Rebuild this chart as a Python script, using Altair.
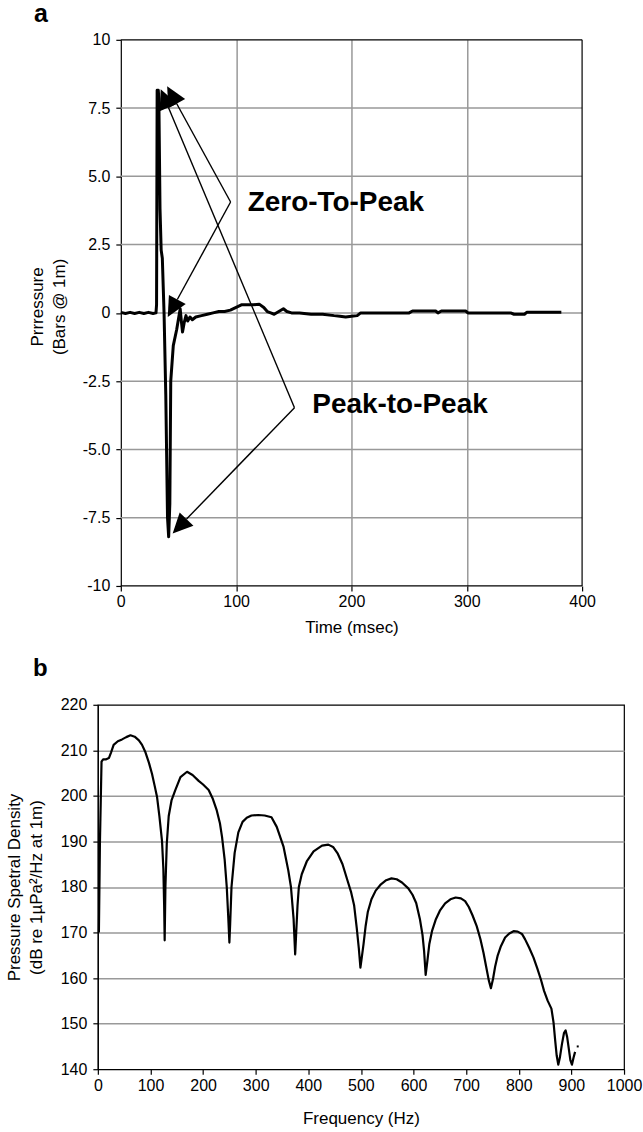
import math
import altair as alt
import pandas as pd

FONT = "Liberation Sans"

# ---------------- Panel a : pressure signature ----------------
time_ms = [0, 4, 8, 12, 16, 20, 24, 28, 30.5, 31, 31.5, 32.5, 33, 34, 35, 36, 37.5, 39,
           40.5, 41.5, 42.5, 43.3, 45.5, 48.5, 50.5, 51.5, 52.5, 53.5, 55, 56.5, 58, 60,
           62, 65, 70, 75, 80, 85, 90, 95, 100, 105, 110, 115, 120, 124, 127, 130, 133,
           137, 141, 144, 148, 155, 165, 175, 185, 190, 195, 200, 205, 208, 215, 225, 235,
           245, 250, 253, 263, 273, 275, 278, 288, 299, 301, 310, 320, 330, 338, 341, 350,
           352, 362, 372, 382]
pressure_bar = [0.02, -0.02, 0.02, -0.02, 0.02, -0.02, 0.02, -0.02, 0.0, 0.3, 8.15, 8.15,
                7.8, 3.8, 2.3, 2.0, 0.0, -3.0, -7.5, -8.2, -7.0, -2.5, -1.2, -0.6, -0.1,
                0.15, -0.3, -0.7, -0.35, -0.1, -0.3, -0.15, -0.25, -0.15, -0.1, -0.05, 0.0,
                0.05, 0.05, 0.1, 0.2, 0.3, 0.3, 0.3, 0.32, 0.2, 0.05, 0.0, -0.05, 0.05, 0.15,
                0.05, 0.0, 0.0, -0.05, -0.05, -0.1, -0.12, -0.15, -0.12, -0.1, 0.0, 0.0, 0.0,
                0.0, 0.0, 0.0, 0.07, 0.07, 0.07, 0.0, 0.07, 0.07, 0.07, 0.0, 0.0, 0.0, 0.0,
                0.0, -0.05, -0.05, 0.02, 0.02, 0.02, 0.02]

# annotation arrows (data units: msec, bar)
arrow_from_t = [95.2, 95.2, 150.6, 150.6]
arrow_from_p = [4.06, 4.06, -3.47, -3.47]
arrow_to_t = [48.5, 49.0, 41.3, 57.0]
arrow_to_p = [7.66, 0.49, 7.52, -7.55]

label_text = ["Zero-To-Peak", "Peak-to-Peak"]
label_t = [110, 166]
label_p = [4.04, -3.38]

# ---------------- Panel b : spectrum ----------------
freq_hz = [2, 4, 7, 10, 15, 21, 25, 30, 38, 46,
           54, 62, 70, 78, 84, 90, 97, 103, 108, 112.6,
           117, 122, 124.5, 126, 127, 128.4, 131, 134.7, 140, 147,
           157, 169.5, 180, 191.6, 200, 210.6, 218, 226, 232, 236,
           241, 245, 248, 250, 251.5, 254, 260, 267, 275, 283,
           292, 305, 317, 330, 340, 353, 362, 367, 372, 375,
           377, 379.5, 382, 387.5, 397, 410, 426, 438, 447, 456,
           465, 474, 481, 487, 492, 496, 499, 501, 505, 509,
           513, 520, 528, 538, 548, 558, 568, 578, 590, 598,
           605, 612, 617, 620, 623, 626, 630, 635, 642, 650,
           660, 670, 680, 690, 698, 705, 712, 720, 727, 733,
           738, 743, 747, 751, 755, 760, 766, 774, 782, 790,
           798, 806, 812, 820, 828, 835, 842, 848, 855, 862,
           866, 869, 872, 875, 878, 882, 886, 889, 892, 895,
           898, 901, 904, 907]
psd_db = [170, 190, 207.5, 208, 208, 208.3, 209.5, 211.2, 212, 212.4,
          212.9, 213.3, 213, 212.2, 211.2, 209.7, 207.3, 204.8, 202.2, 199.7,
          195.5, 190, 184, 176, 168.3, 180, 189.5, 195.6, 199, 201.2,
          204.1, 205.3, 204.6, 203.3, 202.5, 201.3, 199.5, 196.8, 194, 191,
          186, 180, 173, 167.8, 172, 180, 187.5, 192, 194.3, 195.2,
          195.7, 195.8, 195.7, 195.3, 193.2, 188.8, 183.6, 180, 173, 165.2,
          170, 176, 180, 182.8, 185.6, 187.8, 189.1, 189.3, 188.8, 187.3,
          185, 181.6, 179, 176, 171, 166.5, 162.3, 164, 167.5, 171.5,
          174.5, 177.3, 179.2, 180.6, 181.5, 181.9, 181.7, 181, 179.7, 178.3,
          176.5, 173, 169.5, 166, 160.7, 163.5, 167.5, 170.3, 172.8, 174.8,
          176.4, 177.3, 177.7, 177.5, 176.9, 175.6, 173.8, 171.4, 168.6, 165.5,
          162.5, 159.5, 157.8, 159.8, 162.5, 165, 167, 168.9, 169.8, 170.3,
          170.2, 169.7, 168.5, 166.6, 164.5, 162.2, 159.7, 157.2, 155, 153.3,
          150.3, 146.5, 143, 141, 142.5, 145.5, 148, 148.5, 147, 144.5,
          142, 141, 142.5, 143.8]
stray_hz = [912]
stray_db = [145]

top_ticks_t = [0, 100, 200, 300, 400]
top_ticks_p = [10, 7.5, 5, 2.5, 0, -2.5, -5, -7.5, -10]
top_grid_p = [7.5, 5, 2.5, 0, -2.5, -5, -7.5]
bot_ticks_f = [0, 100, 200, 300, 400, 500, 600, 700, 800, 900, 1000]
bot_ticks_db = [140, 150, 160, 170, 180, 190, 200, 210, 220]

# ---------------- layout constants ----------------
TOP_INDENT = 23          # panel a's frame starts this many px right of panel b's
PX_PER_MS = 462 / 400.0
T_MIN = -TOP_INDENT / PX_PER_MS
TOP_W, TOP_H = 462 + TOP_INDENT, 547
BOT_W, BOT_H = 527, 365
GRID = "#999999"
ARROW = "M0,-1L-0.48,0L0.48,0Z"

# arrowhead orientation (screen angle of each arrow's direction)
px_p = TOP_H / 20.0
head_angle = []
for t0, p0, t1, p1 in zip(arrow_from_t, arrow_from_p, arrow_to_t, arrow_to_p):
    dx = (t1 - t0) * PX_PER_MS
    dy = -(p1 - p0) * px_p
    head_angle.append(math.degrees(math.atan2(dx, -dy)) % 360)

top_df = pd.DataFrame({"t": time_ms, "p": pressure_bar})
arrow_df = pd.DataFrame({"t": arrow_from_t, "p": arrow_from_p,
                         "t2": arrow_to_t, "p2": arrow_to_p})
head_df = pd.DataFrame({"t": arrow_to_t, "p": arrow_to_p, "ang": head_angle})
lab_df = pd.DataFrame({"t": label_t, "p": label_p, "label": label_text})
hgrid_df = pd.DataFrame({"t": [0] * len(top_grid_p), "t2": [400] * len(top_grid_p), "p": top_grid_p})
frame_h_df = pd.DataFrame({"t": [0, 0], "t2": [400, 400], "p": [10, -10]})
frame_v_df = pd.DataFrame({"t": [400], "p": [-10], "p2": [10]})

X_top = alt.X("t:Q", scale=alt.Scale(domain=[T_MIN, 400], nice=False, zero=False),
              axis=alt.Axis(values=top_ticks_t, title="Time (msec)", grid=True, domain=False,
                            gridOpacity={"condition": {"test": "datum.value == 0 || datum.value == 400", "value": 0}, "value": 1},
                            labelPadding=3, titlePadding=10, format="d",
                            titleX=TOP_INDENT + 462 / 2.0))
Y_top = alt.Y("p:Q", scale=alt.Scale(domain=[-10, 10], nice=False, zero=False),
              axis=alt.Axis(values=top_ticks_p, title=["Prrressure", "(Bars @ 1m)"], grid=False,
                            offset=-TOP_INDENT,
                            labelExpr="datum.value == 0 || abs(datum.value) == 10 ? toString(datum.value) : (datum.value < 0 ? '-' : '') + format(abs(datum.value), '.1f')",
                            labelPadding=6, titlePadding=14, titleLineHeight=22, titleY=267))

hgrid_a = alt.Chart(hgrid_df).mark_rule(color=GRID, strokeWidth=1.5).encode(x=X_top, x2="t2:Q", y=Y_top)
frame_h_a = alt.Chart(frame_h_df).mark_rule(color="black", strokeWidth=1.2).encode(x=X_top, x2="t2:Q", y=Y_top)
frame_v_a = alt.Chart(frame_v_df).mark_rule(color="black", strokeWidth=1.2).encode(x=X_top, y=Y_top, y2="p2:Q")
line_a = alt.Chart(top_df).mark_line(color="black", strokeWidth=3, strokeJoin="round").encode(x=X_top, y=Y_top)
rules_a = alt.Chart(arrow_df).mark_rule(color="black", strokeWidth=1.4).encode(
    x=X_top, y=Y_top, x2="t2:Q", y2="p2:Q")
heads_a = alt.Chart(head_df).mark_point(shape=ARROW, filled=True, size=1600, color="black",
                                        opacity=1, strokeWidth=0).encode(
    x=X_top, y=Y_top, angle=alt.Angle("ang:Q", scale=None))
text_a = alt.Chart(lab_df).mark_text(align="left", baseline="middle", fontSize=28,
                                     fontWeight="bold", font=FONT, color="black").encode(
    x=X_top, y=Y_top, text="label:N")
tag_a = alt.Chart(pd.DataFrame({"k": [0]})).mark_text(
    align="left", baseline="alphabetic", fontSize=25, fontWeight="bold", font=FONT, color="black"
).encode(x=alt.value(-64), y=alt.value(-18), text=alt.value("a"))

top = alt.layer(hgrid_a, frame_h_a, frame_v_a, line_a, rules_a, heads_a, text_a, tag_a).properties(
    width=TOP_W, height=TOP_H, view=alt.ViewBackground(stroke="transparent"))

bot_df = pd.DataFrame({"f": freq_hz, "d": psd_db})
stray_df = pd.DataFrame({"f": stray_hz, "d": stray_db})
X_bot = alt.X("f:Q", scale=alt.Scale(domain=[0, 1000], nice=False, zero=False),
              axis=alt.Axis(values=bot_ticks_f, title="Frequency (Hz)", grid=False, format="d",
                            labelPadding=3, titlePadding=17))
Y_bot = alt.Y("d:Q", scale=alt.Scale(domain=[140, 220], nice=False, zero=False),
              axis=alt.Axis(values=bot_ticks_db,
                            title=["Pressure Spetral Density", "(dB re 1\u00b5Pa\u00b2/Hz at 1m)"],
                            grid=True,
                            gridOpacity={"condition": {"test": "datum.value == 140 || datum.value == 220", "value": 0}, "value": 1},
                            labelPadding=6, titlePadding=15, titleLineHeight=22))

line_b = alt.Chart(bot_df).mark_line(color="black", strokeWidth=2.2, strokeJoin="round").encode(x=X_bot, y=Y_bot)
dot_b = alt.Chart(stray_df).mark_point(shape="square", filled=True, size=4, color="black", opacity=1).encode(x=X_bot, y=Y_bot)
anchor_b = alt.Chart(pd.DataFrame({"k": [0]})).mark_rule(opacity=0).encode(
    x=alt.value(-95), y=alt.value(0), y2=alt.value(4))
tag_b = alt.Chart(pd.DataFrame({"k": [0]})).mark_text(
    align="left", baseline="alphabetic", fontSize=24, fontWeight="bold", font=FONT, color="black"
).encode(x=alt.value(-65), y=alt.value(-29), text=alt.value("b"))

bottom = alt.layer(line_b, dot_b, anchor_b, tag_b).properties(width=BOT_W, height=BOT_H)

chart = alt.concat(top, bottom, columns=1, spacing=19).properties(
    padding={"left": 2, "top": 0, "right": 0, "bottom": 2}
).configure_view(
    stroke="black", strokeWidth=1.2
).configure_axis(
    domainColor="black", domainWidth=1.2, tickColor="black", tickSize=5, tickWidth=1.2,
    labelColor="black", titleColor="black", labelFont=FONT, titleFont=FONT,
    labelFontSize=16, titleFontSize=17, titleFontWeight="normal",
    gridColor=GRID, gridWidth=1.5, labelFlush=False
)

chart.save("out.html", embed_options={"renderer": "svg", "actions": False})
